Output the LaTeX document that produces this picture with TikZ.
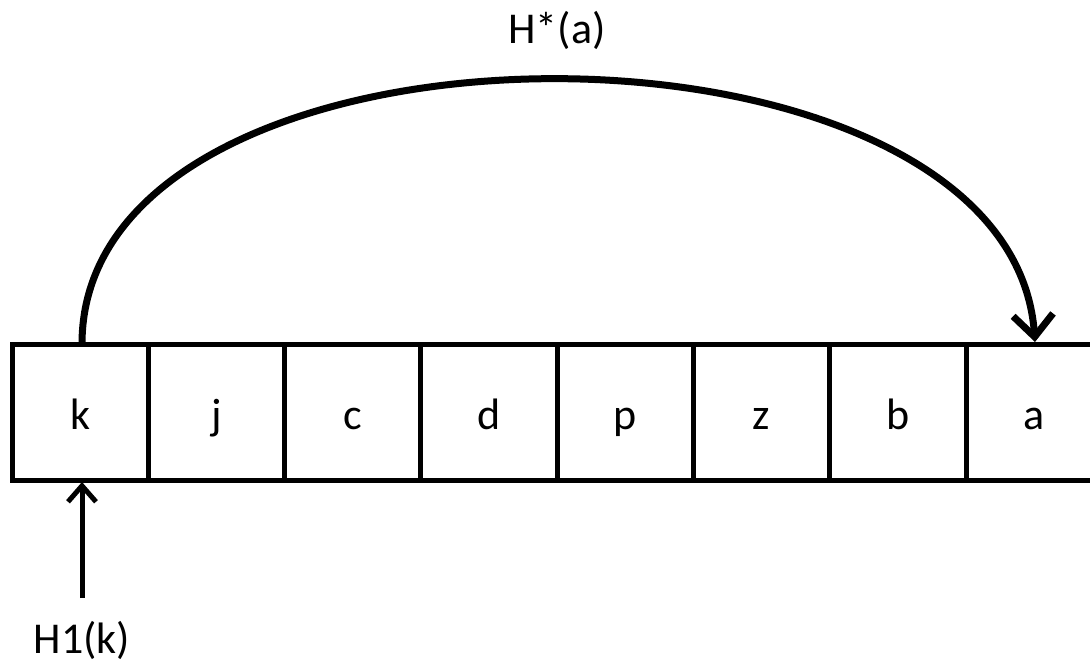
\documentclass[tikz,border=0pt]{standalone}
\usepackage{fontspec}
\setmainfont{Carlito}
\usetikzlibrary{arrows.meta}
\begin{document}
\begin{tikzpicture}[x=1pt,y=-1pt,
  cell/.style={draw=black, line width=5pt, minimum width=136.3pt, minimum height=136pt,
    inner sep=0pt, outer sep=0pt, font=\fontsize{44}{50}\selectfont, text height=36pt, text depth=2pt},
  lbl/.style={font=\fontsize{44}{50}\selectfont, anchor=base, inner sep=0pt},
  thickarc/.style={line width=7pt, -{Straight Barb[length=22pt,width=40pt,line width=7pt]}},
  uparrow/.style={line width=5pt, -{Straight Barb[length=16pt,width=28pt,line width=5pt]}}]
\useasboundingbox (0,0) rectangle (1090,664);
\foreach \t [count=\i] in {k,j,c,d,p,z,b,a} {
  \node[cell] (c\i) at ({12+136.3*(\i-0.5)},412) {\t};
}
\node[lbl] (hstar) at (557,43) {H*(a)};
\node[lbl] (h1) at (82,653) {H1(k)};
\coordinate (arcstart) at (82,344);
\coordinate (arcend) at (1035,342);
\coordinate (upstart) at (82,598);
\coordinate (upend) at (82,482);
\draw[thickarc] (arcstart) .. controls (82,-8) and (1010,-8) .. (arcend);
\draw[uparrow] (upstart) -- (upend);
\end{tikzpicture}
\end{document}
